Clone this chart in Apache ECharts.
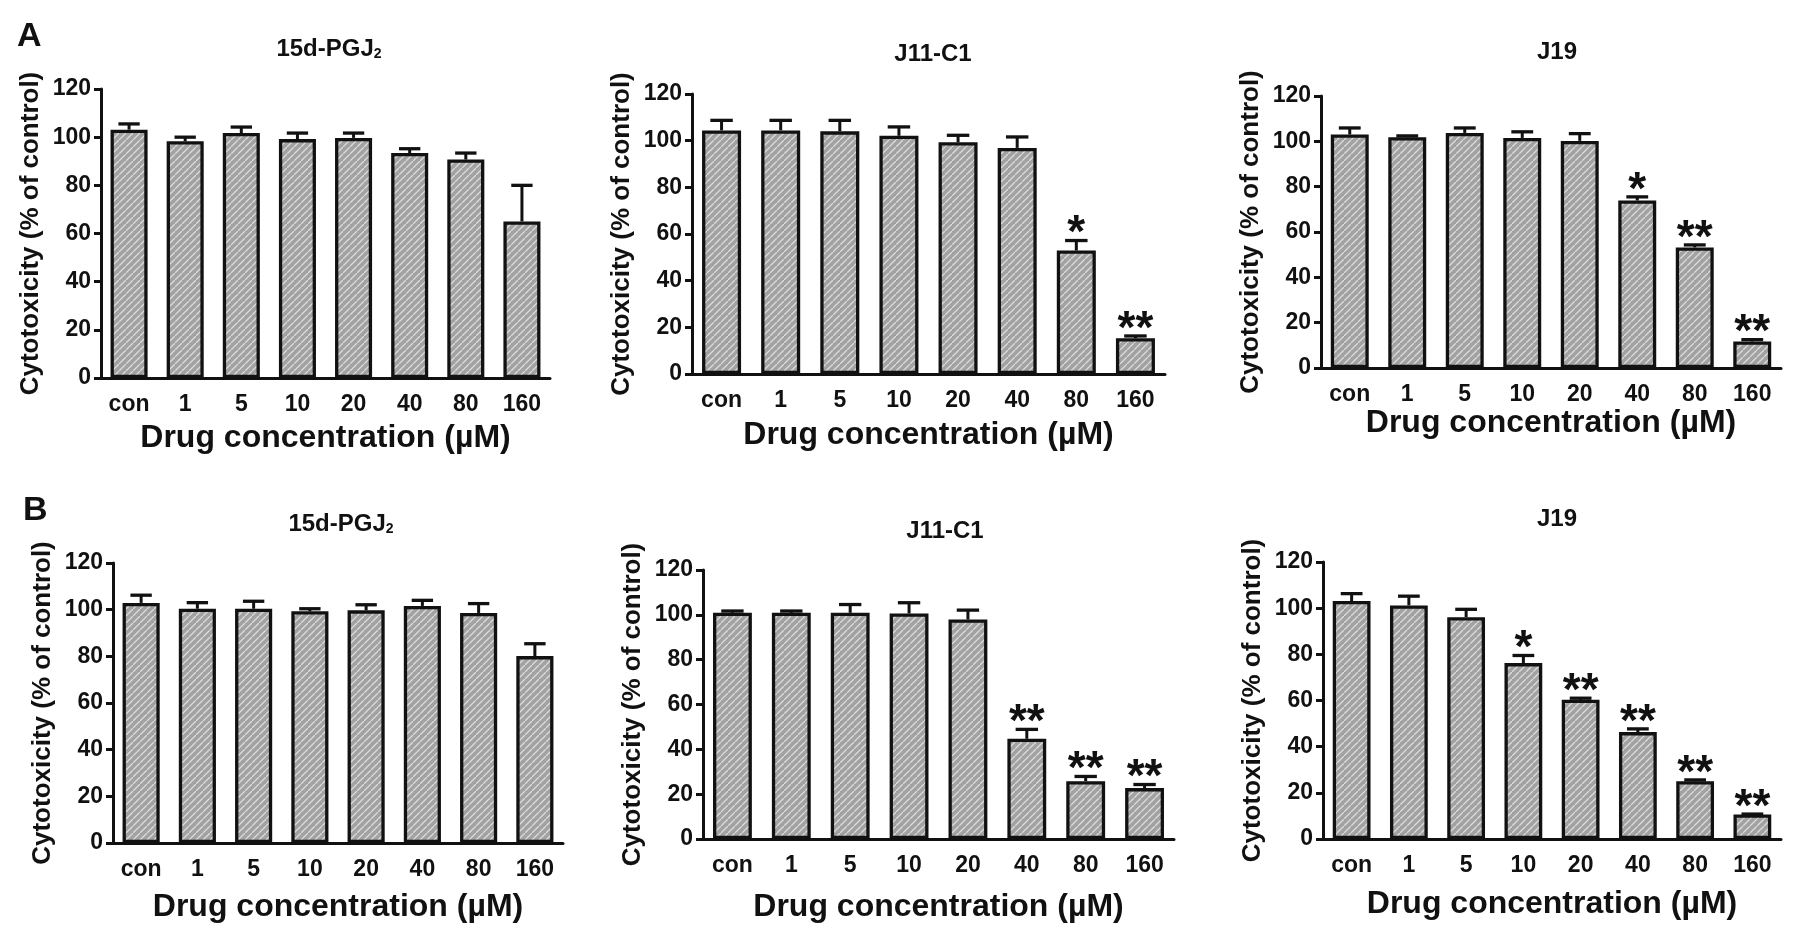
<!DOCTYPE html>
<html>
<head>
<meta charset="utf-8">
<script src="https://cdn.jsdelivr.net/npm/echarts@6/dist/echarts.min.js"></script>
<style>
html,body{margin:0;padding:0;background:#fff;}
#chart{width:1795px;height:937px;}
</style>
</head>
<body>
<div id="chart"></div>
<script>
// ---------- data ----------
const categories = ['con', '1', '5', '10', '20', '40', '80', '160'];
const yTicks = [0, 20, 40, 60, 80, 100, 120];

const titleA1 = '15d-PGJ2';
const titleA2 = 'J11-C1';
const titleA3 = 'J19';
const titleB1 = '15d-PGJ2';
const titleB2 = 'J11-C1';
const titleB3 = 'J19';

const meanA1 = [103.1, 98.3, 101.7, 99.2, 99.7, 93.4, 90.7, 65.0];
const semA1  = [2.4, 1.7, 2.5, 2.5, 2.0, 1.8, 2.7, 15.0];
const starA1 = ['', '', '', '', '', '', '', ''];

const meanA2 = [104.4, 104.4, 104.0, 102.1, 99.3, 96.9, 52.9, 15.3];
const semA2  = [4.3, 4.3, 4.7, 3.8, 3.0, 4.7, 4.3, 1.0];
const starA2 = ['', '', '', '', '', '', '*', '**'];

const meanA3 = [103.0, 101.8, 103.7, 101.5, 100.2, 73.9, 53.2, 11.7];
const semA3  = [2.9, 0.6, 2.2, 2.7, 3.2, 1.6, 1.1, 0.8];
const starA3 = ['', '', '', '', '', '*', '**', '**'];

const meanB1 = [102.9, 100.4, 100.4, 99.3, 99.7, 101.6, 98.6, 80.1];
const semB1  = [3.3, 2.6, 3.2, 1.1, 2.4, 2.4, 4.0, 5.3];
const starB1 = ['', '', '', '', '', '', '', ''];

const meanB2 = [100.9, 100.9, 100.9, 100.6, 97.9, 44.7, 25.8, 22.7];
const semB2  = [0.8, 0.8, 3.7, 4.8, 4.2, 4.2, 2.1, 1.6];
const starB2 = ['', '', '', '', '', '**', '**', '**'];

const meanB3 = [103.1, 101.2, 96.1, 76.2, 60.3, 46.3, 25.0, 10.6];
const semB3  = [3.2, 4.0, 3.4, 3.3, 0.7, 1.4, 0.6, 0.2];
const starB3 = ['', '', '', '*', '**', '**', '**', '**'];

const yName = 'Cytotoxicity (% of control)';
const xName = 'Drug concentration (\u00b5M)';

// ---------- layout (positions / styles) ----------
const panels = [
  {title: titleA1, mean: meanA1, sem: semA1, star: starA1, left: 101, top: 89, width: 449, height: 289, tx: 324, ty: 45, nameGap: 44},
  {title: titleA2, mean: meanA2, sem: semA2, star: starA2, left: 692, top: 94, width: 473, height: 280, tx: 928, ty: 50, nameGap: 45},
  {title: titleA3, mean: meanA3, sem: semA3, star: starA3, left: 1321, top: 96, width: 460, height: 272, tx: 1552, ty: 48, nameGap: 39},
  {title: titleB1, mean: meanB1, sem: semB1, star: starB1, left: 113, top: 563, width: 450, height: 280, tx: 336, ty: 520, nameGap: 48},
  {title: titleB2, mean: meanB2, sem: semB2, star: starB2, left: 703, top: 570, width: 471, height: 269, tx: 940, ty: 527, nameGap: 52},
  {title: titleB3, mean: meanB3, sem: semB3, star: starB3, left: 1323, top: 562, width: 458, height: 277, tx: 1552, ty: 515, nameGap: 49}
];

const FONT = '"Liberation Sans", Arial, Helvetica, sans-serif';
const INK = '#111';

// hatch pattern
const P = 7;
const pc = document.createElement('canvas');
pc.width = P; pc.height = P;
const g = pc.getContext('2d');
g.fillStyle = '#a2a2a2';
g.fillRect(0, 0, P, P);
g.strokeStyle = '#dcdcdc';
g.lineWidth = 1.3;
g.beginPath();
g.moveTo(-1, P + 1); g.lineTo(P + 1, -1);
g.moveTo(-P - 1, 1); g.lineTo(1, -P - 1);
g.moveTo(P - 1, 2 * P + 1); g.lineTo(2 * P + 1, P - 1);
g.stroke();

const grids = [], xAxes = [], yAxes = [], series = [], titles = [];

titles.push({text: 'A', left: 12, top: 15, textStyle: {fontFamily: FONT, fontWeight: 'bold', fontSize: 34, color: INK}});
titles.push({text: 'B', left: 18, top: 489, textStyle: {fontFamily: FONT, fontWeight: 'bold', fontSize: 34, color: INK}});

panels.forEach((p, i) => {
  const isSub = p.title.startsWith('15d');
  titles.push({
    text: isSub ? '{m|15d-PGJ}{s|2}' : '{m|' + p.title + '}',
    left: p.tx, top: p.ty - 13, textAlign: 'center',
    textStyle: {
      rich: {
        m: {fontFamily: FONT, fontWeight: 'bold', fontSize: 24, color: INK},
        s: {fontFamily: FONT, fontWeight: 'bold', fontSize: 14, color: INK, verticalAlign: 'bottom', padding: [10, 0, 0, 0]}
      }
    }
  });
  grids.push({left: p.left, top: p.top, width: p.width, height: p.height, containLabel: false});
  xAxes.push({
    type: 'category', gridIndex: i, data: categories,
    name: xName, nameLocation: 'middle', nameGap: p.nameGap,
    nameTextStyle: {fontFamily: FONT, fontWeight: 'bold', fontSize: 32, color: INK},
    axisLine: {lineStyle: {color: INK, width: 3}},
    axisTick: {alignWithLabel: true, length: 7, lineStyle: {color: INK, width: 3}},
    axisLabel: {fontFamily: FONT, fontWeight: 'bold', fontSize: 23, color: INK, margin: 15},
    splitLine: {show: false}
  });
  yAxes.push({
    type: 'value', gridIndex: i, min: yTicks[0], max: yTicks[yTicks.length - 1], interval: yTicks[1] - yTicks[0],
    name: yName, nameLocation: 'middle', nameGap: 57,
    nameTextStyle: {fontFamily: FONT, fontWeight: 'bold', fontSize: 26, color: INK},
    axisLine: {show: true, lineStyle: {color: INK, width: 3}},
    axisTick: {show: true, length: 7, lineStyle: {color: INK, width: 3}},
    axisLabel: {fontFamily: FONT, fontWeight: 'bold', fontSize: 23, color: INK, margin: 10},
    splitLine: {show: false}
  });
  series.push({
    type: 'bar', xAxisIndex: i, yAxisIndex: i,
    data: p.mean, barWidth: '66%',
    itemStyle: {color: {image: pc, repeat: 'repeat'}, borderColor: INK, borderWidth: 3.3},
    z: 2
  });
  const errData = p.mean.map((m, k) => [k, m, m + p.sem[k], p.star[k]]);
  series.push({
    type: 'custom', xAxisIndex: i, yAxisIndex: i, z: 3,
    data: errData,
    renderItem: function (params, api) {
      const k = api.value(0);
      const top = api.coord([k, api.value(1)]);
      const cap = api.coord([k, api.value(2)]);
      const band = api.size([1, 0])[0];
      const hw = band * 0.19;
      const st = errData[params.dataIndex][3];
      const children = [
        {type: 'line', shape: {x1: top[0], y1: top[1], x2: cap[0], y2: cap[1]}, style: {stroke: INK, lineWidth: 3}},
        {type: 'line', shape: {x1: cap[0] - hw, y1: cap[1], x2: cap[0] + hw, y2: cap[1]}, style: {stroke: INK, lineWidth: 3.3}}
      ];
      if (st) {
        children.push({type: 'text', style: {text: st, x: cap[0], y: cap[1] - 6, textAlign: 'center', textVerticalAlign: 'middle',
          fontFamily: FONT, fontWeight: 'bold', fontSize: 46, fill: INK}});
      }
      return {type: 'group', children: children};
    }
  });
});

const chart = echarts.init(document.getElementById('chart'), null, {renderer: 'canvas'});
chart.setOption({
  backgroundColor: '#ffffff',
  animation: false,
  title: titles,
  grid: grids,
  xAxis: xAxes,
  yAxis: yAxes,
  series: series
});
</script>
</body>
</html>
